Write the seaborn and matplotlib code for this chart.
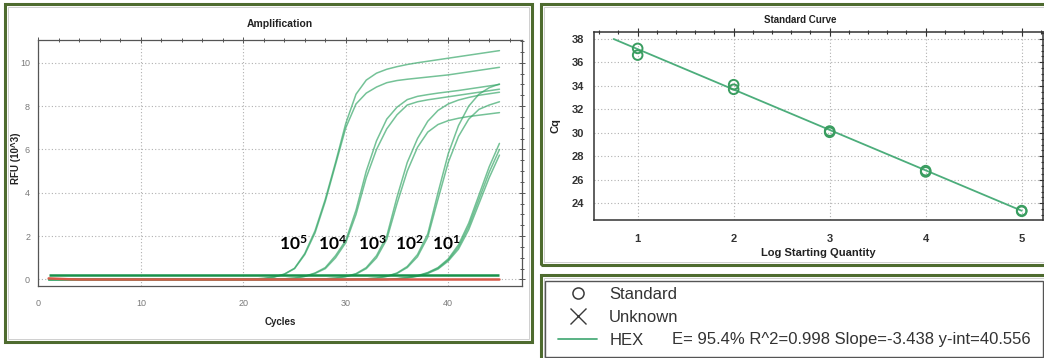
import numpy as np
import pandas as pd
import matplotlib
matplotlib.use("Agg")
import matplotlib.pyplot as plt
import seaborn as sns
from matplotlib.lines import Line2D
from matplotlib.patches import Rectangle
from matplotlib.ticker import MultipleLocator

# ---- amplification data (RFU x10^3 per cycle) ----
cycles = list(range(1, 46))

amp_1e5_a = [0, 0, 0, 0, 0, 0, 0, 0, 0, 0,
             0, 0, 0, 0, 0, 0, 0, 0, 0, 0.01,
             0.02, 0.05, 0.12, 0.25, 0.52, 1.2, 2.25, 3.7, 5.4, 7.2,
             8.55, 9.2, 9.52, 9.7, 9.82, 9.92, 10.0, 10.07, 10.14, 10.21,
             10.28, 10.35, 10.42, 10.49, 10.56]
amp_1e5_b = [0, 0, 0, 0, 0, 0, 0, 0, 0, 0,
             0, 0, 0, 0, 0, 0, 0, 0, 0, 0.01,
             0.02, 0.05, 0.11, 0.24, 0.5, 1.15, 2.15, 3.6, 5.3, 7.0,
             8.1, 8.6, 8.88, 9.08, 9.18, 9.24, 9.29, 9.34, 9.39, 9.44,
             9.51, 9.58, 9.65, 9.72, 9.79]
amp_1e4_a = [0, 0, 0, 0, 0, 0, 0, 0, 0, 0,
             0, 0, 0, 0, 0, 0, 0, 0, 0, 0,
             0, 0, 0.01, 0.03, 0.07, 0.15, 0.3, 0.55, 1.1, 1.8,
             3.2, 5.0, 6.4, 7.4, 7.95, 8.3, 8.45, 8.53, 8.6, 8.66,
             8.72, 8.79, 8.86, 8.93, 9.0]
amp_1e4_b = [0, 0, 0, 0, 0, 0, 0, 0, 0, 0,
             0, 0, 0, 0, 0, 0, 0, 0, 0, 0,
             0, 0, 0.01, 0.03, 0.06, 0.14, 0.28, 0.5, 1.0, 1.7,
             3.0, 4.7, 6.0, 6.95, 7.6, 8.05, 8.2, 8.29, 8.36, 8.43,
             8.5, 8.57, 8.64, 8.71, 8.78]
amp_1e3_a = [0, 0, 0, 0, 0, 0, 0, 0, 0, 0,
             0, 0, 0, 0, 0, 0, 0, 0, 0, 0,
             0, 0, 0, 0, 0, 0, 0.01, 0.03, 0.07, 0.14,
             0.27, 0.55, 1.1, 2.0, 3.8, 5.4, 6.5, 7.3, 7.8, 8.1,
             8.28, 8.4, 8.5, 8.57, 8.64]
amp_1e3_b = [0, 0, 0, 0, 0, 0, 0, 0, 0, 0,
             0, 0, 0, 0, 0, 0, 0, 0, 0, 0,
             0, 0, 0, 0, 0, 0, 0.01, 0.03, 0.06, 0.13,
             0.25, 0.5, 1.0, 1.85, 3.5, 5.0, 6.1, 6.8, 7.15, 7.33,
             7.44, 7.52, 7.58, 7.64, 7.7]
amp_1e2_a = [0, 0, 0, 0, 0, 0, 0, 0, 0, 0,
             0, 0, 0, 0, 0, 0, 0, 0, 0, 0,
             0, 0, 0, 0, 0, 0, 0, 0, 0, 0,
             0.01, 0.03, 0.07, 0.15, 0.3, 0.6, 1.15, 2.1, 4.0, 5.8,
             7.1, 8.0, 8.55, 8.85, 9.02]
amp_1e2_b = [0, 0, 0, 0, 0, 0, 0, 0, 0, 0,
             0, 0, 0, 0, 0, 0, 0, 0, 0, 0,
             0, 0, 0, 0, 0, 0, 0, 0, 0, 0,
             0.01, 0.03, 0.06, 0.14, 0.28, 0.55, 1.05, 1.95, 3.7, 5.4,
             6.6, 7.4, 7.85, 8.05, 8.2]
amp_1e1_a = [0, 0, 0, 0, 0, 0, 0, 0, 0, 0,
             0, 0, 0, 0, 0, 0, 0, 0, 0, 0,
             0, 0, 0, 0, 0, 0, 0, 0, 0, 0,
             0, 0, 0, 0.01, 0.04, 0.09, 0.18, 0.32, 0.55, 0.95,
             1.6, 2.6, 3.9, 5.2, 6.28]
amp_1e1_b = [0, 0, 0, 0, 0, 0, 0, 0, 0, 0,
             0, 0, 0, 0, 0, 0, 0, 0, 0, 0,
             0, 0, 0, 0, 0, 0, 0, 0, 0, 0,
             0, 0, 0, 0, 0.03, 0.08, 0.16, 0.3, 0.52, 0.9,
             1.5, 2.45, 3.7, 4.95, 6.0]
amp_1e1_c = [0, 0, 0, 0, 0, 0, 0, 0, 0, 0,
             0, 0, 0, 0, 0, 0, 0, 0, 0, 0,
             0, 0, 0, 0, 0, 0, 0, 0, 0, 0,
             0, 0, 0, 0, 0.03, 0.07, 0.15, 0.28, 0.48, 0.85,
             1.4, 2.3, 3.5, 4.7, 5.74]
ntc_red = [0.05, 0.03, 0.01, 0, 0, 0, 0, 0, 0, 0,
           0, 0, 0, 0, 0, 0, 0, 0, 0, 0,
           0, 0, 0, 0, 0, 0, 0, 0, 0, 0,
           0, 0, 0, 0, 0, 0, 0, 0, 0, 0,
           0, 0, 0, 0, 0]
threshold = 0.2

dilution_labels = ["10^{5}", "10^{4}", "10^{3}", "10^{2}", "10^{1}"]

# ---- standard curve data ----
log_qty = [1, 1, 2, 2, 3, 3, 4, 4, 5, 5]
cq = [37.18, 36.61, 34.09, 33.70, 30.15, 30.04, 26.78, 26.67, 23.38, 23.32]
fit_slope = -3.438
fit_intercept = 40.556
stats_text = "E= 95.4% R^2=0.998 Slope=-3.438 y-int=40.556"

# ---- style ----
sns.set_theme(style="white")
plt.rcParams["font.family"] = ["Liberation Sans", "DejaVu Sans"]
plt.rcParams["mathtext.fontset"] = "custom"
plt.rcParams["mathtext.rm"] = "Lato:bold"
plt.rcParams["mathtext.it"] = "Lato:bold"
plt.rcParams["mathtext.bf"] = "Lato:bold"
narrow = ["Liberation Sans Narrow", "Liberation Sans", "DejaVu Sans"]

curve_green = "#3aa86b"
thresh_green = "#17914a"
ntc_col = "#d65a48"
line_green = "#4cad7b"
frame_green = "#4e6b2f"
grid_kw = dict(linestyle=(0, (1, 2)), color="#b0b0b0", linewidth=0.8)

W, H = 1044, 358
fig = plt.figure(figsize=(W / 100, H / 100), dpi=100)


def px_rect(x0, y0, x1, y1):
    return [x0 / W, 1 - y1 / H, (x1 - x0) / W, (y1 - y0) / H]


# ================= Amplification =================
ax = fig.add_axes(px_rect(38.4, 40, 522, 286))
curves = {"1e5a": amp_1e5_a, "1e5b": amp_1e5_b, "1e4a": amp_1e4_a, "1e4b": amp_1e4_b,
          "1e3a": amp_1e3_a, "1e3b": amp_1e3_b, "1e2a": amp_1e2_a, "1e2b": amp_1e2_b,
          "1e1a": amp_1e1_a, "1e1b": amp_1e1_b, "1e1c": amp_1e1_c}
amp_df = pd.DataFrame([(w, c, v) for w, vals in curves.items() for c, v in zip(cycles, vals)],
                      columns=["well", "cycle", "rfu"])
sns.lineplot(data=amp_df, x="cycle", y="rfu", units="well", estimator=None,
             color=curve_green, alpha=0.7, linewidth=1.1, ax=ax, legend=False)
ax.hlines(threshold, cycles[0], cycles[-1], color=thresh_green, linewidth=1.8, zorder=4)
sns.lineplot(x=cycles, y=ntc_red, color=ntc_col, linewidth=1.8, ax=ax, zorder=5)

label_x = [24.85, 28.75, 32.6, 36.23, 39.8]
for lx, lab in zip(label_x, dilution_labels):
    ax.text(lx, 1.67, "$" + lab + "$", ha="center", va="center", fontsize=12.5, color="black")

ax.set_xlim(0, 47.2)
ax.set_ylim(-0.3, 11.05)
ax.xaxis.set_major_locator(MultipleLocator(10))
ax.xaxis.set_minor_locator(MultipleLocator(2))
ax.yaxis.set_major_locator(MultipleLocator(2))
ax.yaxis.set_minor_locator(MultipleLocator(0.5))
ax.grid(True, which="major", **grid_kw)
ax.tick_params(which="both", direction="inout", top=True, right=True, color="#555",
               labelcolor="#7a7a7a", labelsize=6.5, width=0.7)
ax.tick_params(which="major", length=5)
ax.tick_params(which="minor", length=3)
ax.tick_params(axis="x", pad=7)
for lab in ax.get_xticklabels() + ax.get_yticklabels():
    lab.set_family(narrow)
for s in ax.spines.values():
    s.set_color("#555")
    s.set_linewidth(0.9)
ax.set_title("Amplification", family=narrow, fontsize=7.5, fontweight="bold", pad=9.5, color="#222")
ax.set_xlabel("Cycles", family=narrow, fontsize=7, fontweight="bold", color="#222")
ax.set_ylabel("RFU (10^3)", family=narrow, fontsize=7, fontweight="bold", color="#222")
ax.xaxis.set_label_coords(0.5, -0.125)
ax.yaxis.set_label_coords(-0.037, 0.52)

# ================= Standard Curve =================
ax2 = fig.add_axes(px_rect(593.7, 31.7, 1043, 220))
fit_x = np.array([min(log_qty) - 0.25, max(log_qty)])
fit_y = fit_intercept + fit_slope * fit_x
sns.lineplot(x=fit_x, y=fit_y, color=line_green, linewidth=1.3, ax=ax2)
sns.scatterplot(x=log_qty, y=cq, ax=ax2, marker="o", s=48, facecolors="none",
                edgecolor="#3a9d60", linewidth=1.4, zorder=3, legend=False)
ax2.set_xlim(0.542, 5.222)
ax2.set_ylim(22.58, 38.6)
ax2.xaxis.set_major_locator(MultipleLocator(1))
ax2.xaxis.set_minor_locator(MultipleLocator(0.2))
ax2.yaxis.set_major_locator(MultipleLocator(2))
ax2.yaxis.set_minor_locator(MultipleLocator(0.5))
ax2.grid(True, which="major", **grid_kw)
ax2.tick_params(which="both", direction="inout", top=True, right=True, color="#333",
                labelcolor="#333", labelsize=8, width=0.8)
ax2.tick_params(which="major", length=6)
ax2.tick_params(which="minor", length=3.5)
ax2.tick_params(axis="x", pad=7)
ax2.tick_params(axis="y", pad=4)
for lab in ax2.get_xticklabels() + ax2.get_yticklabels():
    lab.set_fontweight("bold")
for s in ax2.spines.values():
    s.set_color("#333")
    s.set_linewidth(1.1)
ax2.set_title("Standard Curve", fontsize=7, fontweight="bold", pad=6.5, x=0.459, color="#222")
ax2.set_xlabel("Log Starting Quantity", fontsize=8, fontweight="bold", color="#222")
ax2.set_ylabel("Cq", fontsize=8, fontweight="bold", color="#222")
ax2.xaxis.set_label_coords(0.501, -0.147)
ax2.yaxis.set_label_coords(-0.073, 0.5)

# ================= panel frames =================
for (x0, y0, x1, y1) in [(5, 4, 532, 342), (541, 4, 1052, 265), (541, 275, 1052, 366)]:
    fig.add_artist(Rectangle((x0 / W, 1 - y1 / H), (x1 - x0) / W, (y1 - y0) / H,
                             transform=fig.transFigure, fill=False, ec=frame_green, lw=2.2))
    fig.add_artist(Rectangle(((x0 + 3) / W, 1 - (y1 - 3) / H), (x1 - x0 - 6) / W, (y1 - y0 - 6) / H,
                             transform=fig.transFigure, fill=False, ec="#cfcfcf", lw=0.7))
fig.add_artist(Rectangle((545 / W, 1 - 356.7 / H), (1043 - 545) / W, (356.7 - 280.7) / H,
                         transform=fig.transFigure, fill=False, ec="#555", lw=1.0))

# ================= legend panel =================
handles = [Line2D([], [], ls="none", marker="o", ms=8, mfc="none", mec="#3a3a3a", mew=1.1),
           Line2D([], [], ls="none", marker="x", ms=11, mec="#3a3a3a", mew=1.0),
           Line2D([], [], color=line_green, lw=1.3)]
fig.legend(handles, ["Standard", "Unknown", "HEX"], loc="upper left",
           bbox_to_anchor=(558 / W, 1 - 287.3 / H), frameon=False, fontsize=12,
           handlelength=2.35, handletextpad=0.72, labelspacing=0.47,
           borderpad=0, borderaxespad=0, labelcolor="#333")
fig.text(672 / W, 1 - 339.3 / H, stats_text, fontsize=12, va="center", color="#333")

fig.savefig("out.png", dpi=100, facecolor="white")
